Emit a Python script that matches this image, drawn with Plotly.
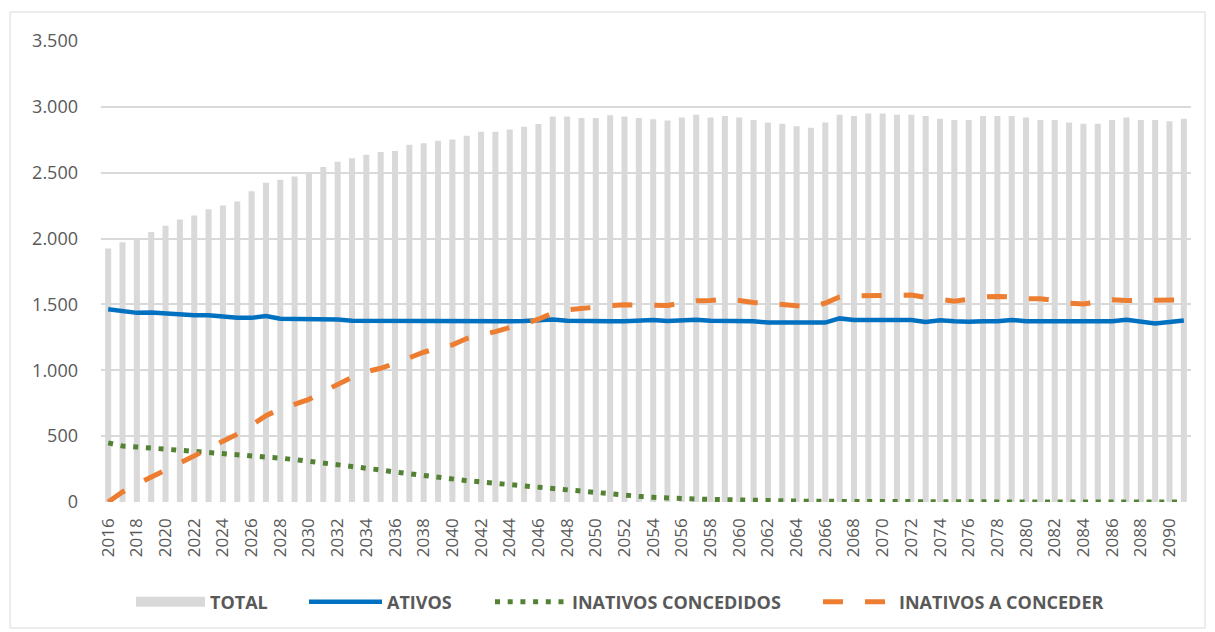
import plotly.graph_objects as go

# Projection years and series (number of people)
years = [str(y) for y in range(2016, 2092)]

total = [
    1925, 1972, 1997, 2050, 2098, 2145, 2175, 2223, 2251, 2281,
    2359, 2424, 2447, 2472, 2490, 2543, 2583, 2610, 2637, 2658,
    2665, 2713, 2723, 2743, 2753, 2781, 2811, 2811, 2829, 2849,
    2869, 2926, 2926, 2916, 2916, 2936, 2926, 2916, 2906, 2896,
    2920, 2940, 2920, 2930, 2920, 2900, 2882, 2872, 2852, 2842,
    2882, 2940, 2930, 2950, 2950, 2940, 2940, 2930, 2910, 2900,
    2900, 2930, 2930, 2930, 2920, 2900, 2900, 2882, 2872, 2872,
    2900, 2920, 2900, 2900, 2890, 2910,
]

ativos = [
    1464, 1454, 1436, 1438, 1429, 1426, 1417, 1418, 1409, 1398,
    1398, 1412, 1391, 1390, 1390, 1390, 1385, 1377, 1376, 1376,
    1376, 1378, 1372, 1372, 1372, 1372, 1373, 1373, 1373, 1374,
    1376, 1386, 1376, 1373, 1373, 1373, 1373, 1376, 1382, 1374,
    1376, 1384, 1376, 1376, 1376, 1372, 1362, 1362, 1362, 1362,
    1362, 1394, 1382, 1382, 1382, 1382, 1382, 1366, 1380, 1372,
    1368, 1373, 1373, 1382, 1373, 1373, 1373, 1373, 1373, 1373,
    1373, 1383, 1370, 1356, 1366, 1378,
]

inativos_concedidos = [
    449, 425, 418, 410, 401, 395, 388, 378, 368, 363,
    353, 343, 333, 322, 310, 295, 287, 272, 259, 243,
    228, 213, 206, 190, 175, 162, 152, 142, 129, 114,
    107, 94, 86, 79, 66, 58, 51, 43, 36, 28,
    26, 22, 19, 15, 13, 12, 9, 7, 6, 5,
    5, 4, 4, 3, 3, 2, 2, 2, 1, 1,
    1, 1, 1, 0, 0, 0, 0, 0, 0, 0,
    0, 0, 0, 0, 0, 0,
]

inativos_a_conceder = [
    0, 76, 135, 188, 239, 294, 350, 404, 462, 515,
    584, 655, 706, 744, 779, 838, 896, 947, 990, 1015,
    1053, 1096, 1137, 1168, 1193, 1241, 1264, 1294, 1325, 1350,
    1388, 1434, 1459, 1472, 1480, 1490, 1497, 1497, 1497, 1492,
    1512, 1528, 1530, 1540, 1530, 1515, 1510, 1497, 1485, 1480,
    1510, 1556, 1566, 1568, 1568, 1573, 1571, 1553, 1535, 1525,
    1540, 1556, 1561, 1558, 1543, 1543, 1530, 1510, 1503, 1515,
    1535, 1530, 1530, 1530, 1528, 1535,
]

y_ticks = [0, 500, 1000, 1500, 2000, 2500, 3000, 3500]
x_ticks = years[::2]

GRID = "#d9d9d9"
TEXT = "#595959"
FONT = "Open Sans"

fig = go.Figure()

fig.add_trace(go.Bar(
    x=years, y=total, name="TOTAL", marker_color=GRID,
    marker_line_width=0, showlegend=False,
))
# wide swatch for the TOTAL legend entry
fig.add_trace(go.Scatter(
    x=[None], y=[None], mode="lines", name="TOTAL",
    line=dict(color=GRID, width=12), legend="legend",
))
fig.add_trace(go.Scatter(
    x=years, y=ativos, mode="lines", name="ATIVOS",
    line=dict(color="#0070c0", width=4.5), legend="legend2",
))
fig.add_trace(go.Scatter(
    x=years, y=inativos_concedidos, mode="lines", name="INATIVOS CONCEDIDOS",
    line=dict(color="#548235", width=5, dash="5px,7.7px"), legend="legend3",
))
fig.add_trace(go.Scatter(
    x=years, y=inativos_a_conceder, mode="lines", name="INATIVOS A CONCEDER",
    line=dict(color="#ed7d31", width=5, dash="20px,22px"), legend="legend4",
))

L, R, T, B = 101, 24, 41, 130
W, H = 1215, 632
pw, ph = W - L - R, H - T - B


def px_x(p):
    return (p - L) / pw


def px_y(p):
    return (H - B - p) / ph


legend_font = dict(family=FONT, size=18, color=TEXT, weight="bold")


def legend_at(x_px, itemwidth):
    return dict(
        orientation="h", x=px_x(x_px), xanchor="left",
        y=px_y(602), yanchor="middle", font=legend_font,
        itemwidth=itemwidth, bgcolor="rgba(0,0,0,0)", borderwidth=0,
        itemclick=False, itemdoubleclick=False,
    )


fig.update_layout(
    width=W, height=H, autosize=False,
    margin=dict(l=L, r=R, t=T, b=B),
    paper_bgcolor="white", plot_bgcolor="white",
    separators=",.",
    bargap=0.58,
    font=dict(family=FONT, color=TEXT),
    legend=legend_at(131, 69),
    legend2=legend_at(304, 73),
    legend3=legend_at(490, 72),
    legend4=legend_at(818, 71),
    shapes=[dict(
        type="rect", xref="paper", yref="paper",
        x0=px_x(10), x1=px_x(1205), y0=px_y(628), y1=px_y(12),
        line=dict(color=GRID, width=1), fillcolor="rgba(0,0,0,0)", layer="below",
    )],
)

fig.update_yaxes(
    range=[0, 3500], tickvals=y_ticks, tickformat=",d",
    showgrid=True, gridcolor=GRID, gridwidth=1.5, zeroline=False,
    showline=False, ticks="", ticklabelstandoff=22,
    tickfont=dict(family=FONT, size=18, color=TEXT),
)
fig.update_xaxes(
    type="category", categoryorder="array", categoryarray=years,
    tickmode="array", tickvals=x_ticks, ticktext=x_ticks, tickangle=-90,
    showgrid=False, zeroline=False, showline=False, ticks="",
    ticklabelstandoff=12,
    tickfont=dict(family=FONT, size=17, color=TEXT),
)

fig.write_html("out.html")
